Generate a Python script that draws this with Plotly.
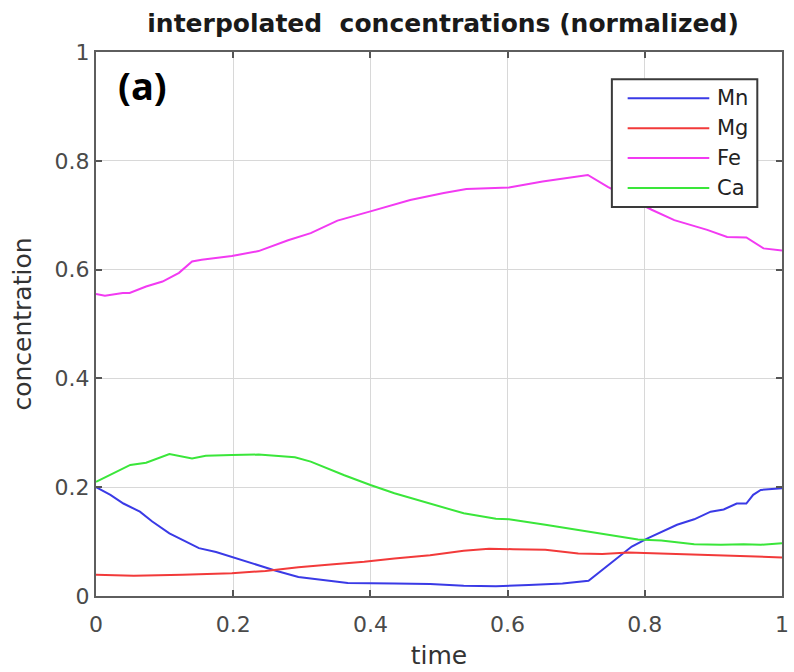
import plotly.graph_objects as go

# Normalized element concentrations along the interpolated time axis
mn_t = [0, 0.021, 0.04, 0.064, 0.082, 0.107, 0.126, 0.15, 0.175, 0.198, 0.227, 0.261, 0.295,
        0.32, 0.367, 0.435, 0.487, 0.536, 0.583, 0.631, 0.68, 0.718, 0.738, 0.761, 0.781,
        0.804, 0.824, 0.847, 0.872, 0.896, 0.915, 0.934, 0.948, 0.958, 0.969, 1.0]
mn_c = [0.200, 0.186, 0.170, 0.155, 0.137, 0.115, 0.103, 0.088, 0.081, 0.072, 0.060, 0.047, 0.035,
        0.031, 0.024, 0.023, 0.022, 0.019, 0.018, 0.020, 0.023, 0.028, 0.048, 0.072, 0.091,
        0.106, 0.118, 0.131, 0.141, 0.155, 0.159, 0.170, 0.170, 0.186, 0.195, 0.198]

mg_t = [0, 0.055, 0.126, 0.198, 0.247, 0.295, 0.342, 0.391, 0.435, 0.487, 0.536, 0.573, 0.608,
        0.655, 0.703, 0.738, 0.776, 0.824, 0.872, 0.92, 0.969, 1.0]
mg_c = [0.039, 0.037, 0.039, 0.042, 0.046, 0.053, 0.058, 0.063, 0.069, 0.075, 0.083, 0.087, 0.086,
        0.085, 0.078, 0.077, 0.080, 0.078, 0.077, 0.074, 0.072, 0.071]

fe_t = [0, 0.013, 0.039, 0.049, 0.073, 0.097, 0.121, 0.14, 0.154, 0.198, 0.237, 0.28, 0.313,
        0.352, 0.4, 0.458, 0.507, 0.54, 0.602, 0.651, 0.717, 0.746, 0.81, 0.843, 0.891, 0.92,
        0.948, 0.973, 1.0]
fe_c = [0.555, 0.552, 0.557, 0.557, 0.569, 0.578, 0.594, 0.615, 0.618, 0.625, 0.634, 0.654, 0.667,
        0.690, 0.707, 0.728, 0.741, 0.748, 0.751, 0.762, 0.774, 0.752, 0.710, 0.691, 0.673, 0.660,
        0.659, 0.639, 0.635]

ca_t = [0, 0.05, 0.073, 0.107, 0.14, 0.16, 0.198, 0.237, 0.29, 0.313, 0.362, 0.4, 0.435, 0.487,
        0.536, 0.583, 0.602, 0.655, 0.703, 0.752, 0.79, 0.824, 0.847, 0.872, 0.911, 0.944, 0.969, 1.0]
ca_c = [0.210, 0.241, 0.245, 0.261, 0.253, 0.258, 0.259, 0.260, 0.255, 0.247, 0.222, 0.204, 0.189,
        0.170, 0.152, 0.142, 0.141, 0.131, 0.121, 0.112, 0.104, 0.102, 0.098, 0.095, 0.094, 0.095,
        0.094, 0.097]

series_names = ["Mn", "Mg", "Fe", "Ca"]
series_t = [mn_t, mg_t, fe_t, ca_t]
series_c = [mn_c, mg_c, fe_c, ca_c]
series_colors = ["#3a3ae6", "#f23a3a", "#f23af2", "#3ae63a"]

x_ticks = [0, 0.2, 0.4, 0.6, 0.8, 1]
x_tick_text = ["0", "0.2", "0.4", "0.6", "0.8", "1"]
y_ticks = [0, 0.2, 0.4, 0.6, 0.8, 1]
y_tick_text = ["0", "0.2", "0.4", "0.6", "0.8", "1"]

fig = go.Figure()
for name, t, c, col in zip(series_names, series_t, series_c, series_colors):
    fig.add_trace(go.Scatter(x=t, y=c, mode="lines", name=name,
                             line=dict(color=col, width=2), showlegend=False))

axis_common = dict(
    showline=True, linecolor="#5e5e5e", linewidth=2, mirror="ticks",
    ticks="inside", ticklen=6, tickwidth=1.5, tickcolor="#555555",
    showgrid=True, gridcolor="#d8d8d8", gridwidth=1, zeroline=False,
    tickfont=dict(family="DejaVu Sans", size=22, color="#4a4a4a"),
)

fig.update_layout(
    width=794, height=672,
    margin=dict(l=96, r=5, t=52, b=76),
    paper_bgcolor="white", plot_bgcolor="white",
    title=dict(text="<b>interpolated  concentrations (normalized)</b>",
               x=0.558, xanchor="center", y=0.966, yanchor="middle",
               font=dict(family="DejaVu Sans", size=25, color="#1a1a1a")),
    xaxis=dict(range=[0, 1], tickvals=x_ticks, ticktext=x_tick_text,
               ticklabelstandoff=8,
               title=dict(text="time", standoff=10,
                          font=dict(family="DejaVu Sans", size=25, color="#333333")),
               **axis_common),
    yaxis=dict(range=[0, 1], tickvals=y_ticks, ticktext=y_tick_text,
               title=dict(text="concentration", standoff=16,
                          font=dict(family="DejaVu Sans", size=25, color="#333333")),
               **axis_common),
)

# Panel label
fig.add_annotation(text="<b>(a)</b>", xref="paper", yref="paper", x=0.068, y=0.94,
                   xanchor="center", yanchor="middle", showarrow=False,
                   font=dict(family="Open Sans", size=38, color="black"))

# Legend box drawn over the curves
box_x0, box_x1, box_y0, box_y1 = 0.752, 0.964, 0.715, 0.950
fig.add_shape(type="rect", xref="paper", yref="paper", x0=box_x0, x1=box_x1, y0=box_y0, y1=box_y1,
              fillcolor="white", line=dict(color="#3a3a3a", width=2), layer="above")
row_y = [0.915, 0.860, 0.805, 0.750]
for name, col, ry in zip(series_names, series_colors, row_y):
    fig.add_shape(type="line", xref="paper", yref="paper", x0=0.775, x1=0.894, y0=ry, y1=ry,
                  line=dict(color=col, width=2), layer="above")
    fig.add_annotation(text=name, xref="paper", yref="paper", x=0.902, y=ry,
                       xanchor="left", yanchor="middle", showarrow=False,
                       font=dict(family="DejaVu Sans", size=21, color="#222222"))

fig.write_html("out.html")
